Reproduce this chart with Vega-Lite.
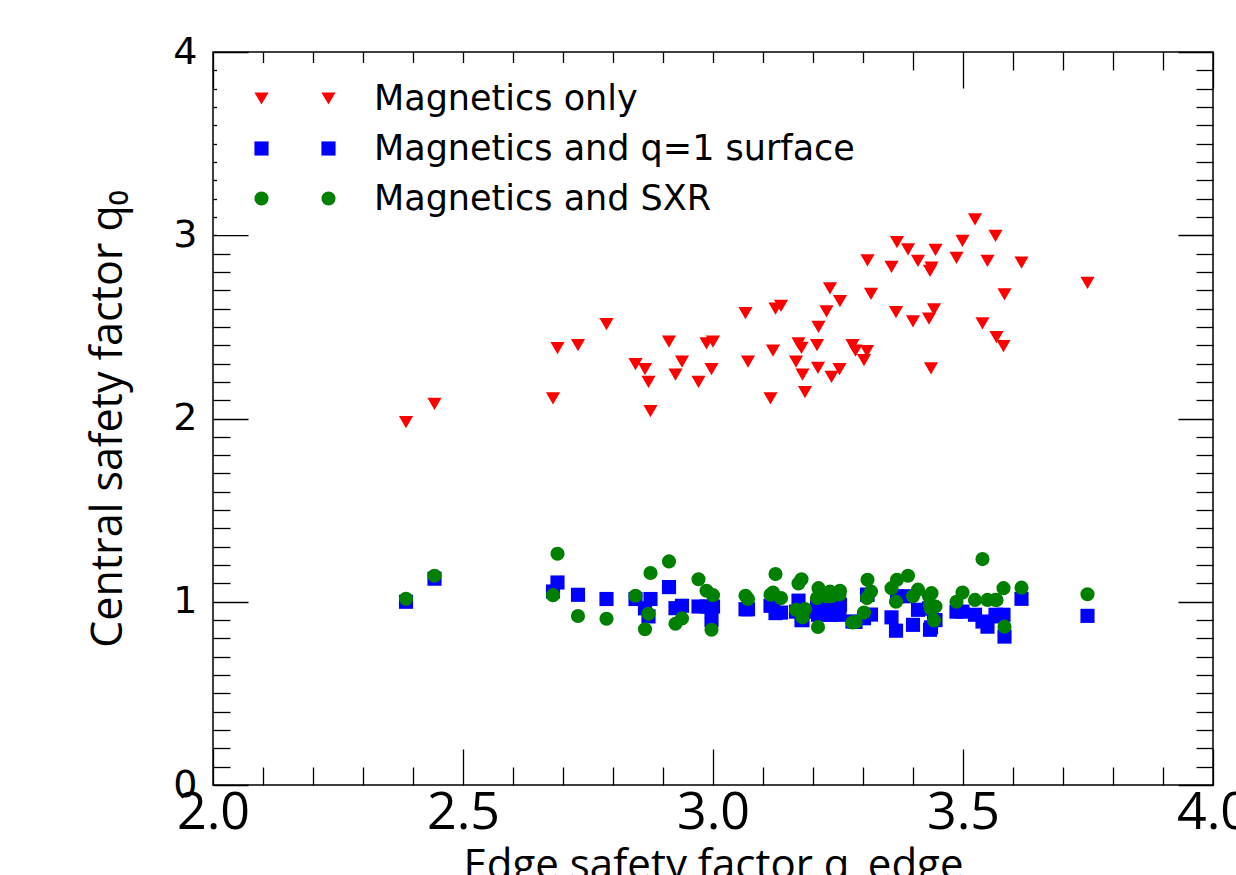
{
  "$schema": "https://vega.github.io/schema/vega-lite/v6.json",
  "width": 1000,
  "height": 733,
  "autosize": "none",
  "padding": {"left": 213, "top": 52, "right": 23, "bottom": 90},
  "background": "white",
  "config": {
    "view": {"stroke": "black", "strokeWidth": 1.5},
    "axis": {"grid": false, "domain": false, "tickColor": "black", "tickWidth": 1.3, "labelColor": "black", "titleColor": "black", "titleFontWeight": "normal", "labelOverlap": false, "labelFlush": false}
  },
  "datasets": {
    "shots": [
      {"qe": 2.386, "Magnetics only": 1.98, "Magnetics and q=1 surface": 1.0, "Magnetics and SXR": 1.016},
      {"qe": 2.443, "Magnetics only": 2.08, "Magnetics and q=1 surface": 1.126, "Magnetics and SXR": 1.142},
      {"qe": 2.68, "Magnetics only": 2.11, "Magnetics and q=1 surface": 1.056, "Magnetics and SXR": 1.036},
      {"qe": 2.689, "Magnetics only": 2.384, "Magnetics and q=1 surface": 1.105, "Magnetics and SXR": 1.262},
      {"qe": 2.73, "Magnetics only": 2.4, "Magnetics and q=1 surface": 1.038, "Magnetics and SXR": 0.922},
      {"qe": 2.787, "Magnetics only": 2.515, "Magnetics and q=1 surface": 1.015, "Magnetics and SXR": 0.907},
      {"qe": 2.845, "Magnetics only": 2.297, "Magnetics and q=1 surface": 1.015, "Magnetics and SXR": 1.033},
      {"qe": 2.864, "Magnetics only": 2.27, "Magnetics and q=1 surface": 0.964, "Magnetics and SXR": 0.85},
      {"qe": 2.871, "Magnetics only": 2.2, "Magnetics and q=1 surface": 0.92, "Magnetics and SXR": 0.934},
      {"qe": 2.875, "Magnetics only": 2.04, "Magnetics and q=1 surface": 1.015, "Magnetics and SXR": 1.157},
      {"qe": 2.912, "Magnetics only": 2.42, "Magnetics and q=1 surface": 1.08, "Magnetics and SXR": 1.22},
      {"qe": 2.925, "Magnetics only": 2.24, "Magnetics and q=1 surface": 0.965, "Magnetics and SXR": 0.88},
      {"qe": 2.938, "Magnetics only": 2.31, "Magnetics and q=1 surface": 0.978, "Magnetics and SXR": 0.909},
      {"qe": 2.971, "Magnetics only": 2.2, "Magnetics and q=1 surface": 0.974, "Magnetics and SXR": 1.123},
      {"qe": 2.987, "Magnetics only": 2.41, "Magnetics and q=1 surface": 0.974, "Magnetics and SXR": 1.06},
      {"qe": 2.997, "Magnetics only": 2.27, "Magnetics and q=1 surface": 0.9, "Magnetics and SXR": 0.847},
      {"qe": 3.0, "Magnetics only": 2.42, "Magnetics and q=1 surface": 0.974, "Magnetics and SXR": 1.036},
      {"qe": 3.065, "Magnetics only": 2.575, "Magnetics and q=1 surface": 0.959, "Magnetics and SXR": 1.033},
      {"qe": 3.07, "Magnetics only": 2.31, "Magnetics and q=1 surface": 0.959, "Magnetics and SXR": 1.015},
      {"qe": 3.115, "Magnetics only": 2.11, "Magnetics and q=1 surface": 0.978, "Magnetics and SXR": 1.038},
      {"qe": 3.12, "Magnetics only": 2.37, "Magnetics and q=1 surface": 0.99, "Magnetics and SXR": 1.05},
      {"qe": 3.125, "Magnetics only": 2.6, "Magnetics and q=1 surface": 0.938, "Magnetics and SXR": 1.151},
      {"qe": 3.136, "Magnetics only": 2.615, "Magnetics and q=1 surface": 0.941, "Magnetics and SXR": 1.02},
      {"qe": 3.166, "Magnetics only": 2.31, "Magnetics and q=1 surface": 0.946, "Magnetics and SXR": 0.956},
      {"qe": 3.171, "Magnetics only": 2.41, "Magnetics and q=1 surface": 1.006, "Magnetics and SXR": 1.1},
      {"qe": 3.177, "Magnetics only": 2.385, "Magnetics and q=1 surface": 0.9, "Magnetics and SXR": 1.123},
      {"qe": 3.179, "Magnetics only": 2.24, "Magnetics and q=1 surface": 0.9, "Magnetics and SXR": 0.915},
      {"qe": 3.184, "Magnetics only": 2.144, "Magnetics and q=1 surface": 0.946, "Magnetics and SXR": 0.96},
      {"qe": 3.208, "Magnetics only": 2.4, "Magnetics and q=1 surface": 0.984, "Magnetics and SXR": 1.02},
      {"qe": 3.21, "Magnetics only": 2.276, "Magnetics and q=1 surface": 0.929, "Magnetics and SXR": 0.862},
      {"qe": 3.211, "Magnetics only": 2.5, "Magnetics and q=1 surface": 0.956, "Magnetics and SXR": 1.074},
      {"qe": 3.227, "Magnetics only": 2.585, "Magnetics and q=1 surface": 0.956, "Magnetics and SXR": 1.03},
      {"qe": 3.234, "Magnetics only": 2.71, "Magnetics and q=1 surface": 0.929, "Magnetics and SXR": 1.056},
      {"qe": 3.237, "Magnetics only": 2.227, "Magnetics and q=1 surface": 0.929, "Magnetics and SXR": 1.03},
      {"qe": 3.253, "Magnetics only": 2.27, "Magnetics and q=1 surface": 0.929, "Magnetics and SXR": 1.04},
      {"qe": 3.254, "Magnetics only": 2.64, "Magnetics and q=1 surface": 0.984, "Magnetics and SXR": 1.06},
      {"qe": 3.279, "Magnetics only": 2.4, "Magnetics and q=1 surface": 0.892, "Magnetics and SXR": 0.887},
      {"qe": 3.285, "Magnetics only": 2.37, "Magnetics and q=1 surface": 0.89, "Magnetics and SXR": 0.89},
      {"qe": 3.302, "Magnetics only": 2.318, "Magnetics and q=1 surface": 0.91, "Magnetics and SXR": 0.941},
      {"qe": 3.308, "Magnetics only": 2.367, "Magnetics and q=1 surface": 1.038, "Magnetics and SXR": 1.02},
      {"qe": 3.309, "Magnetics only": 2.863, "Magnetics and q=1 surface": 1.038, "Magnetics and SXR": 1.12},
      {"qe": 3.316, "Magnetics only": 2.68, "Magnetics and q=1 surface": 0.93, "Magnetics and SXR": 1.056},
      {"qe": 3.357, "Magnetics only": 2.827, "Magnetics and q=1 surface": 0.915, "Magnetics and SXR": 1.074},
      {"qe": 3.366, "Magnetics only": 2.58, "Magnetics and q=1 surface": 0.842, "Magnetics and SXR": 1.0},
      {"qe": 3.368, "Magnetics only": 2.963, "Magnetics and q=1 surface": 1.03, "Magnetics and SXR": 1.12},
      {"qe": 3.39, "Magnetics only": 2.923, "Magnetics and q=1 surface": 1.03, "Magnetics and SXR": 1.142},
      {"qe": 3.4, "Magnetics only": 2.53, "Magnetics and q=1 surface": 0.874, "Magnetics and SXR": 1.03},
      {"qe": 3.41, "Magnetics only": 2.86, "Magnetics and q=1 surface": 0.956, "Magnetics and SXR": 1.066},
      {"qe": 3.432, "Magnetics only": 2.545, "Magnetics and q=1 surface": 0.964, "Magnetics and SXR": 1.03},
      {"qe": 3.434, "Magnetics only": 2.805, "Magnetics and q=1 surface": 0.847, "Magnetics and SXR": 0.984},
      {"qe": 3.436, "Magnetics only": 2.274, "Magnetics and q=1 surface": 0.86, "Magnetics and SXR": 0.96},
      {"qe": 3.437, "Magnetics only": 2.823, "Magnetics and q=1 surface": 0.964, "Magnetics and SXR": 1.047},
      {"qe": 3.442, "Magnetics only": 2.595, "Magnetics and q=1 surface": 0.9, "Magnetics and SXR": 0.898},
      {"qe": 3.445, "Magnetics only": 2.92, "Magnetics and q=1 surface": 0.9, "Magnetics and SXR": 0.974},
      {"qe": 3.487, "Magnetics only": 2.877, "Magnetics and q=1 surface": 0.946, "Magnetics and SXR": 1.0},
      {"qe": 3.499, "Magnetics only": 2.969, "Magnetics and q=1 surface": 0.946, "Magnetics and SXR": 1.05},
      {"qe": 3.524, "Magnetics only": 3.087, "Magnetics and q=1 surface": 0.929, "Magnetics and SXR": 1.01},
      {"qe": 3.539, "Magnetics only": 2.519, "Magnetics and q=1 surface": 0.892, "Magnetics and SXR": 1.233},
      {"qe": 3.549, "Magnetics only": 2.86, "Magnetics and q=1 surface": 0.864, "Magnetics and SXR": 1.01},
      {"qe": 3.565, "Magnetics only": 2.996, "Magnetics and q=1 surface": 0.929, "Magnetics and SXR": 1.01},
      {"qe": 3.567, "Magnetics only": 2.444, "Magnetics and q=1 surface": 0.92, "Magnetics and SXR": 1.01},
      {"qe": 3.581, "Magnetics only": 2.395, "Magnetics and q=1 surface": 0.929, "Magnetics and SXR": 1.074},
      {"qe": 3.583, "Magnetics only": 2.678, "Magnetics and q=1 surface": 0.81, "Magnetics and SXR": 0.864},
      {"qe": 3.617, "Magnetics only": 2.85, "Magnetics and q=1 surface": 1.016, "Magnetics and SXR": 1.077},
      {"qe": 3.749, "Magnetics only": 2.74, "Magnetics and q=1 surface": 0.923, "Magnetics and SXR": 1.041}
    ]
  },
  "resolve": {
    "scale": {"color": "independent", "shape": "independent"},
    "axis": {"x": "independent", "y": "independent"}
  },
  "layer": [
    {
      "data": {"name": "shots"},
      "transform": [
        {"fold": ["Magnetics only", "Magnetics and q=1 surface", "Magnetics and SXR"], "as": ["series", "q0"]}
      ],
      "mark": {"type": "point", "filled": true, "opacity": 1, "size": 200, "strokeWidth": 0},
      "encoding": {
        "x": {
          "field": "qe", "type": "quantitative",
          "scale": {"domain": [2, 4], "nice": false, "zero": false},
          "axis": {
            "orient": "bottom",
            "values": [2.0, 2.1, 2.2, 2.3, 2.4, 2.5, 2.6, 2.7, 2.8, 2.9, 3.0, 3.1, 3.2, 3.3, 3.4, 3.5, 3.6, 3.7, 3.8, 3.9, 4.0],
            "labelExpr": "abs(datum.value*2 - round(datum.value*2)) < 0.001 ? format(datum.value, '.1f') : ''",
            "tickSize": {"condition": {"test": "abs(datum.value*2 - round(datum.value*2)) < 0.001", "value": -36}, "value": -18},
            "labelFont": "Open Sans",
            "labelFontSize": 52,
            "labelPadding": 38,
            "title": "Edge safety factor q_edge",
            "titleFont": "Open Sans",
            "titleFontSize": 42,
            "titlePadding": -11
          }
        },
        "y": {
          "field": "q0", "type": "quantitative",
          "scale": {"domain": [0, 4], "nice": false, "zero": false},
          "axis": {
            "orient": "left",
            "values": [0, 0.1, 0.2, 0.3, 0.4, 0.5, 0.6, 0.7, 0.8, 0.9, 1, 1.1, 1.2, 1.3, 1.4, 1.5, 1.6, 1.7, 1.8, 1.9, 2, 2.1, 2.2, 2.3, 2.4, 2.5, 2.6, 2.7, 2.8, 2.9, 3, 3.1, 3.2, 3.3, 3.4, 3.5, 3.6, 3.7, 3.8, 3.9, 4],
            "labelExpr": "abs(datum.value - round(datum.value)) < 0.001 ? format(datum.value, 'd') : ''",
            "tickSize": {"condition": {"test": "abs(datum.value - round(datum.value)) < 0.001", "value": -35}, "value": -17},
            "labelFont": "DejaVu Sans",
            "labelFontSize": 38,
            "labelPadding": 51,
            "title": "Central safety factor q₀",
            "titleFont": "Open Sans",
            "titleFontSize": 43,
            "titlePadding": 42
          }
        },
        "color": {
          "field": "series", "type": "nominal",
          "scale": {"domain": ["Magnetics only", "Magnetics and q=1 surface", "Magnetics and SXR"], "range": ["#ff0000", "#0000ff", "#008000"]},
          "legend": {"orient": "none", "legendX": 62, "legendY": 11, "title": null, "fillColor": "white", "padding": 18, "symbolOffset": 18, "labelOffset": 28, "symbolSize": 200, "symbolStrokeWidth": 0, "labelFont": "DejaVu Sans", "labelFontSize": 35, "labelColor": "black", "rowPadding": 14, "labelLimit": 0}
        },
        "shape": {
          "field": "series", "type": "nominal",
          "scale": {"domain": ["Magnetics only", "Magnetics and q=1 surface", "Magnetics and SXR"], "range": ["triangle-down", "square", "circle"]}
        },
        "order": {"field": "series", "sort": "descending"}
      }
    },
    {
      "data": {"name": "shots"},
      "transform": [
        {"fold": ["Magnetics only", "Magnetics and q=1 surface", "Magnetics and SXR"], "as": ["series", "q0"]},
        {"filter": "datum.qe < 0"}
      ],
      "mark": {"type": "point", "filled": true, "opacity": 1, "size": 200, "strokeWidth": 0},
      "encoding": {
        "x": {
          "field": "qe", "type": "quantitative",
          "scale": {"domain": [2, 4], "nice": false, "zero": false},
          "axis": {
            "orient": "top",
            "values": [2.0, 2.1, 2.2, 2.3, 2.4, 2.5, 2.6, 2.7, 2.8, 2.9, 3.0, 3.1, 3.2, 3.3, 3.4, 3.5, 3.6, 3.7, 3.8, 3.9, 4.0],
            "labels": false,
            "tickSize": {"condition": {"test": "abs(datum.value*2 - round(datum.value*2)) < 0.001", "value": -36}, "value": -18},
            "title": null
          }
        },
        "y": {
          "field": "q0", "type": "quantitative",
          "scale": {"domain": [0, 4], "nice": false, "zero": false},
          "axis": {
            "orient": "right",
            "values": [0, 0.1, 0.2, 0.3, 0.4, 0.5, 0.6, 0.7, 0.8, 0.9, 1, 1.1, 1.2, 1.3, 1.4, 1.5, 1.6, 1.7, 1.8, 1.9, 2, 2.1, 2.2, 2.3, 2.4, 2.5, 2.6, 2.7, 2.8, 2.9, 3, 3.1, 3.2, 3.3, 3.4, 3.5, 3.6, 3.7, 3.8, 3.9, 4],
            "labels": false,
            "tickSize": {"condition": {"test": "abs(datum.value - round(datum.value)) < 0.001", "value": -35}, "value": -17},
            "title": null
          }
        },
        "color": {
          "field": "series", "type": "nominal",
          "scale": {"domain": ["Magnetics only", "Magnetics and q=1 surface", "Magnetics and SXR"], "range": ["#ff0000", "#0000ff", "#008000"]},
          "legend": {"orient": "none", "legendX": 4, "legendY": 11, "title": null, "fillColor": "white", "padding": 18, "symbolOffset": 9, "labelOffset": 0, "symbolSize": 200, "symbolStrokeWidth": 0, "labelFont": "DejaVu Sans", "labelFontSize": 35, "labelExpr": "' '", "rowPadding": 14}
        },
        "shape": {
          "field": "series", "type": "nominal",
          "scale": {"domain": ["Magnetics only", "Magnetics and q=1 surface", "Magnetics and SXR"], "range": ["triangle-down", "square", "circle"]}
        }
      }
    }
  ]
}
